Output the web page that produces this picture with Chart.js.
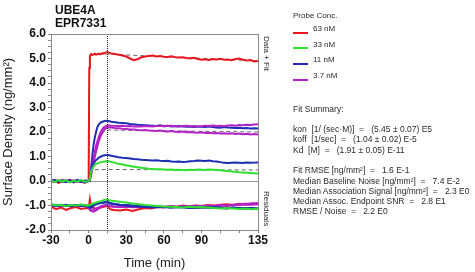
<!DOCTYPE html>
<html>
<head>
<meta charset="utf-8">
<script src="https://cdn.jsdelivr.net/npm/chart.js@4/dist/chart.umd.min.js"></script>
<style>
  html,body{margin:0;padding:0;background:#fff;}
  #wrap{position:relative;width:475px;height:272px;overflow:hidden;font-family:Arial,"Liberation Sans",sans-serif;}
  #c{position:absolute;left:0;top:0;}
  .t{position:absolute;white-space:pre;color:#2a2a2a;font-size:8px;line-height:10px;}
  .fs{position:absolute;white-space:pre;color:#2a2a2a;font-size:8.5px;line-height:10px;}
  .title{position:absolute;font-weight:bold;font-size:12px;color:#111;line-height:12px;}
  .vert{position:absolute;writing-mode:vertical-rl;font-size:8px;color:#2a2a2a;line-height:10px;white-space:pre;}
  .sw{position:absolute;height:2px;width:15px;}
</style>
</head>
<body>
<div id="wrap">
  <canvas id="c" width="475" height="272" style="width:475px;height:272px"></canvas>
</div>
<script>
// ---------- Data ----------
const titleLines = ["UBE4A", "EPR7331"];
const concLabels = ["63 nM", "33 nM", "11 nM", "3.7 nM"];
const concColors = ["#e8161e", "#2fe02f", "#1c2fb4", "#b322c6"];
const xTickLabels = [-30, 0, 30, 60, 90, 135];

const T = [-30,-27,-24,-21,-18,-15,-12,-9,-6,-3,0,
  0.5,1,1.5,2,
  3,4,5,6,7,8,9,10,11,12,13,14,15,
  18,21,24,27,30,33,36,39,42,45,48,51,54,57,60,63,66,69,72,75,78,81,84,87,90,93,96,99,102,105,108,111,114,117,120,123,126,129,132,135];

const red63 = [-0.05,0.02,-0.08,0.03,-0.04,0.05,-0.06,0.01,-0.03,-0.07,0.0,
  4.6,5.1,5.15,5.18,
  5.15,5.17,5.2,5.16,5.18,5.2,5.17,5.19,5.22,5.2,5.23,5.25,5.26,
  5.2,5.18,5.15,5.12,5.08,5.0,4.93,4.97,5.05,5.08,5.1,5.12,5.08,5.1,5.07,5.06,5.09,5.05,5.04,5.05,5.02,5.0,5.03,4.98,4.95,4.97,4.94,4.98,4.96,4.99,4.95,4.96,4.93,4.98,5.0,4.95,4.92,4.94,4.88,4.9];

const green33 = [0.02,-0.05,0.04,-0.02,0.03,-0.06,0.01,-0.03,0.04,-0.04,0.0,
  0.05,0.15,0.28,0.4,
  0.52,0.6,0.66,0.7,0.72,0.74,0.76,0.77,0.78,0.79,0.8,0.81,0.82,
  0.78,0.74,0.7,0.67,0.64,0.61,0.58,0.56,0.54,0.52,0.5,0.49,0.48,0.48,0.47,0.46,0.47,0.45,0.46,0.45,0.44,0.46,0.45,0.47,0.46,0.45,0.47,0.46,0.45,0.44,0.42,0.41,0.39,0.38,0.36,0.35,0.34,0.33,0.32,0.31];

const blue11a = [0.05,-0.02,0.03,-0.04,0.02,0.0,-0.05,0.03,-0.02,-0.06,0.0,
  0.02,0.1,0.3,0.55,
  1.05,1.5,1.8,2.02,2.2,2.3,2.36,2.4,2.42,2.44,2.45,2.46,2.46,
  2.42,2.4,2.38,2.37,2.36,2.33,2.32,2.3,2.29,2.28,2.27,2.26,2.25,2.27,2.24,2.25,2.22,2.23,2.24,2.22,2.21,2.22,2.2,2.22,2.21,2.2,2.22,2.2,2.18,2.17,2.2,2.18,2.17,2.16,2.17,2.15,2.16,2.14,2.15,2.14];

const blue11b = [0.0,0.04,-0.03,0.02,-0.05,0.03,-0.02,0.05,-0.04,0.01,0.0,
  0.05,0.15,0.3,0.45,
  0.62,0.72,0.8,0.86,0.9,0.95,0.98,1.0,1.03,1.04,1.05,1.06,1.07,
  1.03,1.0,0.97,0.95,0.94,0.92,0.9,0.89,0.87,0.86,0.85,0.84,0.85,0.83,0.82,0.83,0.8,0.79,0.8,0.78,0.79,0.81,0.82,0.84,0.83,0.82,0.84,0.81,0.8,0.77,0.74,0.73,0.74,0.75,0.74,0.73,0.75,0.74,0.75,0.76];

const purple37a = [-0.03,0.02,-0.01,0.04,-0.03,0.02,0.0,-0.04,0.03,-0.02,0.0,
  0.02,0.08,0.2,0.35,
  0.65,0.95,1.2,1.45,1.62,1.78,1.92,2.03,2.12,2.18,2.22,2.25,2.28,
  2.26,2.25,2.24,2.25,2.23,2.24,2.22,2.23,2.22,2.24,2.23,2.22,2.24,2.25,2.23,2.24,2.25,2.23,2.22,2.24,2.25,2.23,2.24,2.22,2.24,2.26,2.25,2.27,2.25,2.26,2.24,2.27,2.28,2.26,2.29,2.28,2.3,2.29,2.31,2.32];

const purple37b = [0.03,-0.04,0.02,-0.02,0.04,-0.03,0.03,-0.01,-0.04,0.02,0.0,
  0.02,0.05,0.12,0.25,
  0.5,0.75,1.0,1.22,1.42,1.6,1.75,1.88,1.98,2.06,2.12,2.16,2.19,
  2.18,2.16,2.15,2.13,2.12,2.1,2.1,2.08,2.07,2.08,2.06,2.05,2.04,2.06,2.03,2.02,2.04,2.01,2.0,2.02,1.99,2.0,1.98,1.97,1.99,1.96,1.97,1.95,1.96,1.94,1.95,1.93,1.95,1.92,1.94,1.91,1.93,1.9,1.92,1.9];

// Fits
const fitRedT = [0,0.5,1,2,3,15,45,75,105,135];
const fitRed  = [0,3.5,4.9,5.12,5.15,5.18,5.11,5.04,4.97,4.9];
const fitHiT  = [0,1,2,3,4,5,6,8,10,12,15,45,75,105,135];
const fitHi   = [0,0.2,0.45,0.75,1.0,1.25,1.45,1.72,1.9,2.0,2.08,2.06,2.04,2.02,2.0];
const fitLoT  = [0,0.5,1,1.5,2,3,4,15,45,75,105,135];
const fitLo   = [0,0.1,0.22,0.32,0.38,0.44,0.46,0.47,0.465,0.46,0.455,0.45];

// Residuals (plotted offset around -1)
const RT = [-30,-26,-22,-18,-14,-10,-6,-2,0,1,2,4,6,8,10,12,15,17,20,25,30,35,40,45,50,55,60,65,70,75,80,85,90,95,100,105,110,115,120,125,130,135];
const resRed = [-1.05,-1.15,-1.08,-1.18,-1.1,-1.06,-1.14,-1.1,-1.12,-0.75,-1.05,-1.1,-1.15,-1.1,-1.08,-1.05,-1.02,-1.15,-1.18,-1.2,-1.16,-1.22,-1.15,-1.1,-1.12,-1.05,-1.08,-1.02,-1.05,-1.0,-1.03,-1.0,-1.02,-0.98,-1.0,-0.97,-0.95,-0.98,-0.93,-0.95,-0.92,-0.95];
const resGreen = [-0.95,-1.0,-0.97,-1.02,-0.98,-1.0,-0.96,-1.0,-1.0,-0.98,-0.95,-0.92,-0.88,-0.85,-0.82,-0.78,-0.75,-0.8,-0.82,-0.85,-0.88,-0.92,-0.95,-0.98,-1.0,-1.02,-1.04,-1.05,-1.06,-1.08,-1.05,-1.07,-1.06,-1.08,-1.1,-1.12,-1.1,-1.12,-1.14,-1.12,-1.15,-1.13];
const resBlueA = [-0.95,-1.0,-0.97,-1.03,-0.99,-1.01,-0.97,-1.02,-1.05,-1.05,-1.1,-1.0,-0.95,-0.92,-0.9,-0.88,-0.85,-0.9,-0.93,-0.97,-0.98,-1.0,-1.02,-1.05,-1.07,-1.05,-1.06,-1.08,-1.07,-1.06,-1.08,-1.1,-1.08,-1.07,-1.06,-1.1,-1.12,-1.08,-1.1,-1.12,-1.1,-1.13];
const resBlueB = [-0.98,-1.02,-1.0,-0.97,-1.03,-0.99,-1.01,-1.0,-1.02,-1.08,-1.02,-0.97,-0.93,-0.9,-0.9,-0.88,-0.87,-0.92,-0.95,-0.98,-1.0,-1.03,-1.04,-1.06,-1.05,-1.07,-1.05,-1.08,-1.06,-1.07,-1.1,-1.08,-1.07,-1.09,-1.1,-1.08,-1.11,-1.09,-1.12,-1.1,-1.11,-1.12];
const resPurpleA = [-1.0,-1.03,-0.98,-1.02,-1.0,-0.99,-1.02,-1.0,-1.05,-1.15,-1.22,-1.25,-1.2,-1.12,-1.05,-1.0,-0.98,-1.02,-1.04,-1.05,-1.03,-1.06,-1.04,-1.07,-1.05,-1.04,-1.06,-1.03,-1.05,-1.02,-1.04,-1.01,-1.03,-1.0,-1.02,-0.98,-1.0,-0.97,-0.95,-0.93,-0.92,-0.9];
const resPurpleB = [-1.02,-0.99,-1.01,-0.98,-1.03,-1.0,-0.98,-1.03,-1.08,-1.18,-1.2,-1.18,-1.12,-1.08,-1.03,-1.0,-1.0,-1.03,-1.05,-1.06,-1.05,-1.07,-1.06,-1.05,-1.08,-1.06,-1.07,-1.05,-1.06,-1.04,-1.05,-1.03,-1.04,-1.02,-1.03,-1.0,-1.02,-0.99,-0.98,-0.96,-0.97,-0.95];

const fitSummary = [
  "kon  [1/ (sec\u00B7M)]  =   (5.45 \u00B1 0.07) E5",
  "koff  [1/sec]  =   (1.04 \u00B1 0.02) E-5",
  "Kd  [M]  =   (1.91 \u00B1 0.05) E-11",
  "",
  "Fit RMSE [ng/mm\u00B2]  =   1.6 E-1",
  "Median Baseline Noise [ng/mm\u00B2]  =   7.4 E-2",
  "Median Association Signal [ng/mm\u00B2]  =   2.3 E0",
  "Median Assoc. Endpoint SNR  =   2.8 E1",
  "RMSE / Noise  =   2.2 E0"
];

// ---------- Build ----------
const pts = (xs, ys) => xs.map((x, i) => ({x, y: ys[i]}));
const dataLine = (ys, color, xs) => ({data: pts(xs || T, ys), borderColor: color, borderWidth: 2, pointRadius: 0, fill: false});
const fitLine = (xs, ys) => ({data: pts(xs, ys), borderColor: "#666", borderWidth: 1, borderDash: [4, 3], pointRadius: 0, fill: false});

const datasets = [
  dataLine(resGreen, concColors[1], RT),
  dataLine(resBlueA, concColors[2], RT),
  dataLine(resBlueB, concColors[2], RT),
  dataLine(resPurpleA, concColors[3], RT),
  dataLine(resPurpleB, concColors[3], RT),
  dataLine(resRed, concColors[0], RT),
  dataLine(green33, concColors[1]),
  dataLine(blue11b, concColors[2]),
  dataLine(purple37b, concColors[3]),
  dataLine(purple37a, concColors[3]),
  dataLine(blue11a, concColors[2]),
  dataLine(red63, concColors[0]),
  fitLine(fitLoT, fitLo),
  fitLine(fitHiT, fitHi),
  fitLine(fitRedT, fitRed)
];

const framePlugin = {
  id: "frame",
  beforeDatasetsDraw(chart) {
    const {ctx, chartArea: a, scales: {y}} = chart;
    const y0 = Math.round(y.getPixelForValue(0)) + 0.5;
    ctx.save();
    ctx.strokeStyle = "#999";
    ctx.lineWidth = 1;
    ctx.beginPath(); ctx.moveTo(a.left, y0); ctx.lineTo(a.right, y0); ctx.stroke();
    ctx.restore();
  },
  afterDatasetsDraw(chart) {
    const {ctx, chartArea: a, scales: {x}} = chart;
    const xv = Math.round(x.getPixelForValue(15)) + 0.5;
    ctx.save();
    ctx.strokeStyle = "#222";
    ctx.lineWidth = 1;
    ctx.setLineDash([1, 1]);
    ctx.beginPath(); ctx.moveTo(xv, a.top); ctx.lineTo(xv, a.bottom); ctx.stroke();
    ctx.setLineDash([]);
    ctx.strokeStyle = "#8a8a8a";
    ctx.strokeRect(Math.round(a.left) + 0.5, Math.round(a.top) + 0.5, Math.round(a.right - a.left), Math.round(a.bottom - a.top));
    ctx.restore();
  }
};

const tickFont = {family: "Arial", size: 12, weight: "bold"};
new Chart(document.getElementById("c"), {
  type: "line",
  data: {datasets},
  options: {
    responsive: false,
    animation: false,
    layout: {padding: {left: 0, top: 34, right: 217, bottom: 0}},
    plugins: {legend: {display: false}, tooltip: {enabled: false}},
    elements: {line: {tension: 0}},
    scales: {
      x: {
        type: "linear", min: -30, max: 135,
        ticks: {stepSize: 15, autoSkip: false, maxRotation: 0, padding: 0, color: "#111", font: tickFont,
          callback: v => xTickLabels.includes(v) ? String(v) : ""},
        grid: {drawOnChartArea: false, drawTicks: true, tickLength: 3, tickColor: "#777"},
        border: {color: "#8a8a8a"},
        title: {display: true, text: "Time (min)", color: "#222", font: {family: "Arial", size: 13}, padding: {top: 0, bottom: 1}},
        afterFit: s => { s.height = 42; }
      },
      y: {
        min: -2, max: 6,
        ticks: {stepSize: 0.25, autoSkip: false, maxTicksLimit: 100, padding: 2, color: "#111", font: tickFont,
          callback: v => Math.abs(v - Math.round(v)) < 1e-6 ? Math.round(v).toFixed(1) : ""},
        grid: {drawOnChartArea: false, drawTicks: true, tickLength: 3, tickColor: "#888"},
        border: {color: "#8a8a8a"},
        title: {display: true, text: "Surface Density (ng/mm\u00B2)", color: "#222", font: {family: "Arial", size: 13}, padding: {top: 1, bottom: 0}},
        afterFit: s => { s.width = 51; }
      }
    }
  },
  plugins: [framePlugin]
});

// ---------- Text overlays ----------
const wrap = document.getElementById("wrap");
function addDiv(cls, text, left, top, extra) {
  const d = document.createElement("div");
  d.className = cls;
  d.textContent = text;
  d.style.left = left + "px";
  d.style.top = top + "px";
  if (extra) Object.assign(d.style, extra);
  wrap.appendChild(d);
  return d;
}
titleLines.forEach((s, i) => addDiv("title", s, 55, 4 + i * 12.5));
addDiv("t", "Probe Conc.", 293, 11);
concLabels.forEach((s, i) => {
  const sw = addDiv("sw", "", 293, 31.5 + i * 15.7);
  sw.style.background = concColors[i];
  addDiv("t", s, 313, 24 + i * 15.7);
});
addDiv("fs", "Fit Summary:", 293, 104);
fitSummary.forEach((s, i) => addDiv("fs", s, 293, 124 + i * 10.3));
addDiv("vert", "Data + Fit", 261, 36);
addDiv("vert", "Residuals", 261, 191);
</script>
</body>
</html>
